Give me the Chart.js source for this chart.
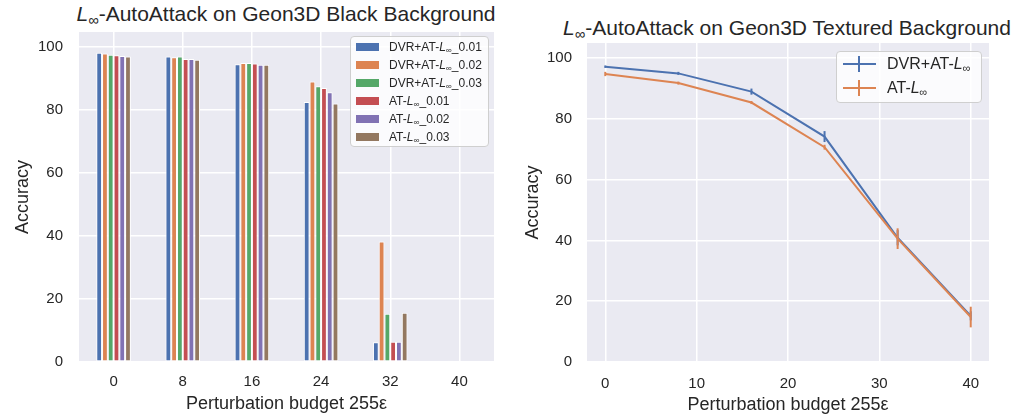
<!DOCTYPE html>
<html>
<head>
<meta charset="utf-8">
<script src="https://cdn.jsdelivr.net/npm/chart.js@4.4.1/dist/chart.umd.min.js"></script>
<style>
  body { margin:0; background:#fff; font-family:"Liberation Sans", Arial, sans-serif; color:#262626; }
  #wrap { position:relative; width:1019px; height:419px; overflow:hidden; }
  .pane { position:absolute; top:0; }
  .ttl { position:absolute; text-align:center; font-size:21px; line-height:20px; white-space:nowrap; }
  sub { font-size:0.7em; line-height:0; vertical-align:-0.25em; }
  .leg { position:absolute; background:rgba(255,255,255,0.8); border:1px solid #cfcfcf; border-radius:4px; box-sizing:border-box; }
  .row { position:absolute; white-space:nowrap; }
  .patch { position:absolute; }
</style>
</head>
<body>
<div id="wrap">
  <div class="ttl" style="left:26px;width:520px;top:4px"><i>L</i><sub>∞</sub>-AutoAttack on Geon3D Black Background</div>
  <div class="ttl" style="left:527px;width:520px;top:18px"><i>L</i><sub>∞</sub>-AutoAttack on Geon3D Textured Background</div>
  <div class="pane" style="left:0;width:500px;height:419px"><canvas id="c1" width="500" height="419"></canvas></div>
  <div class="pane" style="left:505px;width:514px;height:419px"><canvas id="c2" width="514" height="419"></canvas></div>
  <div class="leg" id="leg1" style="left:350px;top:36px;width:139px;height:111px"></div>
  <div class="leg" id="leg2" style="left:836px;top:51px;width:146px;height:52px"></div>
</div>
<script>
// left: grouped bars
var budgets = ['0', '8', '16', '24', '32', '40'];
var barNames = ['DVR+AT-_0.01', 'DVR+AT-_0.02', 'DVR+AT-_0.03', 'AT-_0.01', 'AT-_0.02', 'AT-_0.03'];
var dvr01 = [98.1, 96.9, 94.5, 82.5, 6.3, 0];
var dvr02 = [97.9, 96.7, 94.9, 89.0, 38.2, 0.4];
var dvr03 = [97.5, 96.9, 94.9, 87.5, 15.3, 0];
var at01  = [97.3, 96.1, 94.7, 86.9, 6.4, 0];
var at02  = [97.1, 96.1, 94.3, 85.6, 6.4, 0];
var at03  = [96.9, 95.9, 94.3, 82.0, 15.6, 0.2];

// right: lines with error bars
var eps = [0, 8, 16, 24, 32, 40];
var lineNames = ['DVR+AT-', 'AT-'];
var dvrAcc = [97.2, 95.0, 89.0, 74.2, 40.9, 15.2];
var dvrErr = [0.4, 0.5, 1.0, 1.8, 2.5, 1.5];
var atAcc  = [94.8, 91.8, 85.4, 70.7, 40.6, 14.8];
var atErr  = [0.7, 0.5, 0.5, 0.8, 3.4, 3.4];

var deep = ['#4C72B0', '#DD8452', '#55A868', '#C44E52', '#8172B3', '#937860'];
var ink = '#262626';

Chart.defaults.font.family = '"Liberation Sans", Arial, sans-serif';
Chart.defaults.color = ink;

var plotBg = {
  id: 'plotBg',
  beforeDraw: function(chart){
    var a = chart.chartArea, ctx = chart.ctx;
    ctx.save();
    ctx.fillStyle = '#EAEAF2';
    ctx.fillRect(a.left, a.top, a.right - a.left, a.bottom - a.top);
    ctx.restore();
  }
};

var errSets = [dvrErr, atErr];
var errBars = {
  id: 'errBars',
  afterDatasetDraw: function(chart, args){
    var ds = chart.data.datasets[args.index];
    var errs = errSets[args.index];
    var ctx = chart.ctx, x = chart.scales.x, y = chart.scales.y;
    ctx.save();
    ctx.strokeStyle = ds.borderColor;
    ctx.lineWidth = 2;
    ds.data.forEach(function(p, j){
      var px = x.getPixelForValue(p.x);
      ctx.beginPath();
      ctx.moveTo(px, y.getPixelForValue(p.y - errs[j]));
      ctx.lineTo(px, y.getPixelForValue(p.y + errs[j]));
      ctx.stroke();
    });
    ctx.restore();
  }
};

function gridOpts(){
  return { color:'#ffffff', lineWidth:1.5, drawTicks:false };
}

var barData = [dvr01, dvr02, dvr03, at01, at02, at03];
new Chart(document.getElementById('c1'), {
  type: 'bar',
  data: {
    labels: budgets,
    datasets: barData.map(function(d, i){
      return { label: barNames[i], data: d, backgroundColor: deep[i], borderColor:'#ffffff',
               borderWidth: 1, borderSkipped: false, categoryPercentage: 0.5, barPercentage: 1 };
    })
  },
  options: {
    responsive: false,
    animation: false,
    layout: { padding: { left:0, right:6, top:32, bottom:0 } },
    plugins: { legend: { display:false }, tooltip: { enabled:false } },
    scales: {
      x: {
        grid: Object.assign(gridOpts(), { offset:false }),
        border: { display:false },
        ticks: { font:{ size:15 }, padding:11, color:ink },
        title: { display:true, text:'Perturbation budget 255ε', font:{ size:18 }, padding:{ top:0, bottom:4 }, color:ink },
        afterFit: function(s){ s.height = 57; }
      },
      y: {
        min: 0, max: 104.7,
        grid: gridOpts(),
        border: { display:false },
        ticks: { stepSize:20, includeBounds:false, font:{ size:15 }, padding:16, color:ink },
        title: { display:true, text:'Accuracy', font:{ size:18 }, padding:{ top:12, bottom:0 }, color:ink },
        afterFit: function(s){ s.width = 79; }
      }
    }
  },
  plugins: [plotBg]
});

var lineData = [dvrAcc, atAcc];
new Chart(document.getElementById('c2'), {
  type: 'line',
  data: {
    datasets: lineData.map(function(d, i){
      return { label: lineNames[i], data: eps.map(function(e, j){ return { x:e, y:d[j] }; }),
               borderColor: deep[i], backgroundColor: deep[i], borderWidth: 2,
               pointRadius: 0, tension: 0, fill: false, order: 1 - i };
    })
  },
  options: {
    responsive: false,
    animation: false,
    layout: { padding: { left:0, right:30, top:43, bottom:0 } },
    plugins: { legend: { display:false }, tooltip: { enabled:false } },
    scales: {
      x: {
        type: 'linear', min: -2, max: 42,
        grid: gridOpts(),
        border: { display:false },
        ticks: { stepSize:10, includeBounds:false, font:{ size:15 }, padding:13, color:ink },
        title: { display:true, text:'Perturbation budget 255ε', font:{ size:18 }, padding:{ top:0, bottom:3 }, color:ink },
        afterFit: function(s){ s.height = 57; }
      },
      y: {
        min: 0, max: 105,
        grid: gridOpts(),
        border: { display:false },
        ticks: { stepSize:20, includeBounds:false, font:{ size:15 }, padding:15, color:ink },
        title: { display:true, text:'Accuracy', font:{ size:18 }, padding:{ top:17, bottom:0 }, color:ink },
        afterFit: function(s){ s.width = 82; }
      }
    }
  },
  plugins: [plotBg, errBars]
});

// legends (html so the italic L with subscript can be kept)
function mathName(n){
  return n.replace('-', '-<i>L</i><sub>∞</sub>');
}
var leg1 = document.getElementById('leg1');
barNames.forEach(function(n, i){
  var top = 4 + i * 18;
  leg1.innerHTML += '<div class="patch" style="left:5px;top:' + (top + 2) + 'px;width:23px;height:8px;background:' + deep[i] + '"></div>' +
    '<div class="row" style="left:38px;top:' + (top - 1) + 'px;font-size:12px;line-height:14px">' + mathName(n) + '</div>';
});
var leg2 = document.getElementById('leg2');
lineNames.forEach(function(n, i){
  var cy = 12 + i * 24;
  leg2.innerHTML += '<div class="patch" style="left:6px;top:' + (cy - 1) + 'px;width:33px;height:2px;background:' + deep[i] + '"></div>' +
    '<div class="patch" style="left:21px;top:' + (cy - 8) + 'px;width:2px;height:16px;background:' + deep[i] + '"></div>' +
    '<div class="row" style="left:50px;top:' + (cy - 10) + 'px;font-size:16px;line-height:19px">' + mathName(n) + '</div>';
});
</script>
</body>
</html>
